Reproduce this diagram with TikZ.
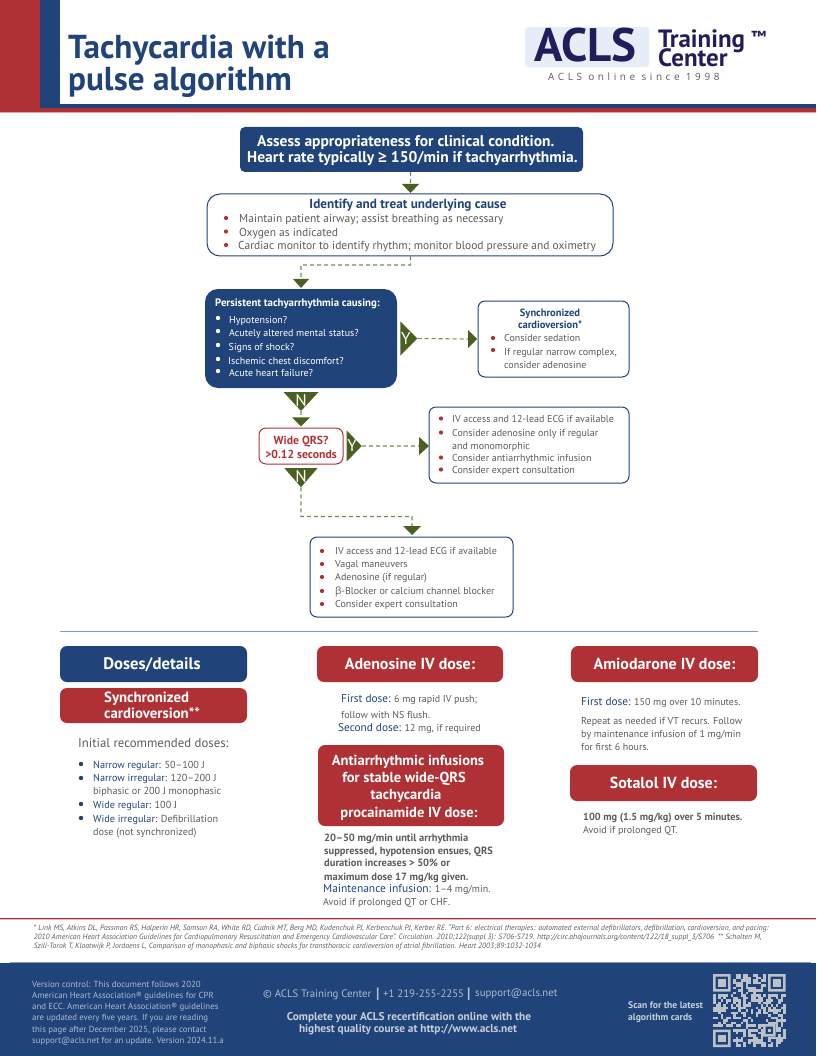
\documentclass[tikz,border=0pt]{standalone}
\usepackage{fontspec}
\setmainfont{PT Sans}
\newfontfamily\greekfont{Open Sans}
\newfontfamily\spacedfont[LetterSpace=36]{Open Sans}
\usetikzlibrary{positioning}
\definecolor{acblue}{HTML}{20447A}
\definecolor{acred}{HTML}{B03135}
\definecolor{acolive}{HTML}{4A6020}
\definecolor{acgray}{HTML}{5A5B5E}
\definecolor{acnavy}{HTML}{221C5A}
\definecolor{acpale}{HTML}{E7EDF7}
\definecolor{acrule}{HTML}{7F9AC4}
\definecolor{acfoot}{HTML}{AEBACD}
\definecolor{acfootb}{HTML}{C6CED9}
\definecolor{acqr}{HTML}{BCC2C8}
\newcommand{\fsz}[1]{\fontsize{#1}{#1}\selectfont}
\tikzset{
  txt/.style={anchor=west,inner sep=0,text=acgray,text height=7.5pt,text depth=0pt,font=\fsz{10}},
  ctxt/.style={txt,anchor=center},
  headtxt/.style={txt,text=white,text height=10.5pt},
  fillbox/.style={fill=#1,rounded corners=7pt,inner sep=0},
  linebox/.style={draw=#1,fill=white,line width=1pt,inner sep=0},
  flow/.style={draw=acolive!75!white,line width=1.1pt,dash pattern=on 4pt off 3pt},
  downtip/.style={inner sep=0,text=white,font=\fsz{17},path picture={\fill[acolive] (path picture bounding box.north west) -- (path picture bounding box.north east) -- (path picture bounding box.south) -- cycle;}},
  righttip/.style={inner sep=0,text=white,font=\fsz{17},path picture={\fill[acolive] (path picture bounding box.north west) -- (path picture bounding box.east) -- (path picture bounding box.south west) -- cycle;}}
}
\begin{document}
\begin{tikzpicture}[x=1pt,y=-1pt]
  \useasboundingbox (0,0) rectangle (816,1056);

  \fill[acred] (0,0) rectangle (40,112);
  \fill[acblue] (40,0) rectangle (60,108);
  \fill[acblue] (40,104) rectangle (816,108);
  \fill[acred] (40,108) rectangle (816,112);
  \fill[acred!45!white] (0,112) rectangle (816,113);
  \node[anchor=base west,inner sep=0,text=acblue,font=\fsz{33.2}\bfseries] (title1) at (68,59) {Tachycardia with a};
  \node[anchor=base west,inner sep=0,text=acblue,font=\fsz{33.2}\bfseries] (title2) at (68,91) {pulse algorithm};

  \fill[acpale,rounded corners=3pt] (525,27) rectangle (649,67);
  \node[anchor=base west,inner sep=0,text=acnavy,font=\fsz{47}\bfseries] (logo) at (534,62) {ACLS};
  \node[anchor=base west,inner sep=0,text=acnavy,font=\fsz{25}\bfseries,text height=17pt,text depth=0pt] (training) at (658,48) {Training};
  \node[anchor=base west,inner sep=0,text=acnavy,font=\fsz{25}\bfseries,text height=17pt,text depth=0pt] (center) at (658,67) {Center};
  \node[anchor=west,inner sep=0,text=acnavy,font=\fsz{16}\bfseries] (tm) at (751,37) {™};
  \node[anchor=west,inner sep=0,text=acgray,font=\fsz{10}\spacedfont] (since) at (548,77) {ACLS online since 1998};

  \node[fillbox=acblue,rounded corners=5pt,minimum width=343pt,minimum height=45pt] (assess) at (411.5,149.5) {};
  \node[headtxt,font=\fsz{15.5}\bfseries] (assess1) at (257,141) {Assess appropriateness for clinical condition.};
  \node[headtxt,font=\fsz{15.5}\bfseries] (assess2) at (247,157) {Heart rate typically {\greekfont ≥} 150/min if tachyarrhythmia.};
  \node[downtip,minimum width=17pt,minimum height=9pt] (tip1) at (410.5,188.5) {};

  \node[linebox=acblue,rounded corners=13pt,minimum width=406pt,minimum height=62pt] (identify) at (410,225) {};
  \node[ctxt,text=acblue,font=\fsz{13.2}\bfseries,text height=9pt] (identifyhead) at (408,204) {Identify and treat underlying cause};
  \foreach \tag/\xpos/\ypos/\line in {id1/239/219/{Maintain patient airway; assist breathing as necessary},id2/239/232.5/{Oxygen as indicated},id3/238/246/{Cardiac monitor to identify rhythm; monitor blood pressure and oximetry}} {
    \fill[acred] (226,\ypos-1) circle (2.1pt);
    \node[txt,font=\fsz{11.5},text height=8pt] (\tag) at (\xpos,\ypos) {\line};
  }

  \node[downtip,minimum width=16pt,minimum height=9pt] (tip2) at (301,283.5) {};
  \node[fillbox=acblue,rounded corners=13pt,minimum width=192pt,minimum height=99pt] (persist) at (301,338.5) {};
  \node[txt,text=white,font=\fsz{10.8}\bfseries] (persisthead) at (215,303) {Persistent tachyarrhythmia causing:};
  \foreach \tag/\xpos/\ypos/\line in {pe1/229/320/Hypotension?,pe2/229/333/{Acutely altered mental status?},pe3/228.5/347/{Signs of shock?},pe4/228/361/{Ischemic chest discomfort?},pe5/229/373/{Acute heart failure?}} {
    \fill[white] (218,\ypos-2) circle (2.2pt);
    \node[txt,text=white] (\tag) at (\xpos,\ypos) {\line};
  }

  \node[righttip,minimum width=17pt,minimum height=34pt,right=3pt of persist] (ytip1) {\kern-6pt Y};
  \node[righttip,minimum width=9pt,minimum height=18pt] (ytipb1) at (472.5,339) {};
  \node[linebox=acblue,rounded corners=7pt,minimum width=151pt,minimum height=76pt] (syncbox) at (553.5,339) {};
  \node[ctxt,text=acblue,font=\fsz{10.5}\bfseries] (syncbox1) at (550,313) {Synchronized};
  \node[ctxt,text=acblue,font=\fsz{10.5}\bfseries] (syncbox2) at (550,324.5) {cardioversion*};
  \fill[acred] (493,338) circle (2.1pt) (493,350) circle (2.1pt);
  \node[txt] (sy1) at (504,338) {Consider sedation};
  \node[txt] (sy2) at (504,352) {If regular narrow complex,};
  \node[txt] (sy3) at (504,364.5) {consider adenosine};

  \node[downtip,minimum width=35pt,minimum height=19pt] (ntip1) at (301,401.5) {\raisebox{2pt}{N}};
  \node[downtip,minimum width=18pt,minimum height=9pt,below=6pt of ntip1] (tip3) {};
  \node[linebox=acred,rounded corners=7pt,minimum width=84pt,minimum height=36pt] (qrs) at (301,446) {};
  \node[ctxt,text=acred,font=\fsz{11.7}\bfseries,text height=8.5pt] (qrs1) at (301,440) {Wide QRS?};
  \node[ctxt,text=acred,font=\fsz{11.7}\bfseries,text height=8.5pt] (qrs2) at (301,454) {>0.12 seconds};
  \node[righttip,minimum width=15pt,minimum height=31pt,right=3pt of qrs] (ytip2) {\kern-4pt Y};
  \node[righttip,minimum width=10pt,minimum height=18pt] (ytipb2) at (424,446) {};
  \node[linebox=acblue,rounded corners=7pt,minimum width=200pt,minimum height=76pt] (widebox) at (529,445) {};
  \foreach \tag/\ypos/\line in {wi1/419/{IV access and 12-lead ECG if available},wi2/433/{Consider adenosine only if regular},wi4/458/{Consider antiarrhythmic infusion},wi5/470/{Consider expert consultation}} {
    \fill[acred] (441,\ypos-0.5) circle (2.1pt);
    \node[txt] (\tag) at (452,\ypos) {\line};
  }
  \node[txt] (wi3) at (452,445.5) {and monomorphic};

  \node[downtip,minimum width=33pt,minimum height=19pt,below=3.5pt of qrs] (ntip2) {\raisebox{2pt}{N}};
  \node[downtip,minimum width=18pt,minimum height=9pt] (tip4) at (412,530.5) {};
  \node[linebox=acblue,rounded corners=7pt,minimum width=203pt,minimum height=80pt] (narrowbox) at (411.5,577) {};
  \foreach \tag/\ypos/\line in {na1/551/{IV access and 12-lead ECG if available},na2/564/{Vagal maneuvers},na3/577/{Adenosine (if regular)},na4/591/{{\greekfont β}-Blocker or calcium channel blocker},na5/604/{Consider expert consultation}} {
    \fill[acred] (322,\ypos) circle (2.1pt);
    \node[txt] (\tag) at (335,\ypos) {\line};
  }

  \path[flow]
    (tip1.north |- assess.south) -- (tip1.north)
    (identify.south -| tip1.north) -- (410.5,265) -| (tip2.north)
    (ytip1.east) -- (ytipb1.west)
    (ntip1.south) -- (tip3.north)
    (ytip2.east) -- (ytipb2.west)
    (ntip2.south) |- (412,516.5) -- (tip4.north)
    ;

  \draw[acrule,line width=1pt] (60,631) -- (758,631);

  \node[fillbox=acblue,minimum width=187pt,minimum height=36pt] (doses) at (153.5,664) {};
  \node[headtxt,anchor=center,font=\fsz{16.7}\bfseries] (doseshead) at (152,664) {Doses/details};
  \node[fillbox=acred,minimum width=187pt,minimum height=35pt] (syncdose) at (153.5,705.5) {};
  \node[headtxt,font=\fsz{14.8}\bfseries] (syncdose1) at (104,697) {Synchronized};
  \node[headtxt,font=\fsz{14.8}\bfseries] (syncdose2) at (104,713) {cardioversion**};
  \node[txt,font=\fsz{12.8},text height=9.5pt] (initial) at (78,743) {Initial recommended doses:};
  \fill[acblue] (81,764) circle (2.2pt) (81,778) circle (2.2pt) (81,804) circle (2.2pt) (81,818) circle (2.2pt);
  \node[txt,font=\fsz{10.2}] (do1) at (93,765) {\textcolor{acblue}{Narrow regular:} 50–100 J};
  \node[txt,font=\fsz{10.2}] (do2) at (93,778) {\textcolor{acblue}{Narrow irregular:} 120–200 J};
  \node[txt,font=\fsz{10.2}] (do3) at (93,791) {biphasic or 200 J monophasic};
  \node[txt,font=\fsz{10.2}] (do4) at (93,805) {\textcolor{acblue}{Wide regular:} 100 J};
  \node[txt,font=\fsz{10.2}] (do5) at (93,819) {\textcolor{acblue}{Wide irregular:} Defibrillation};
  \node[txt,font=\fsz{10.2}] (do6) at (93,832) {dose (not synchronized)};

  \node[fillbox=acred,minimum width=186pt,minimum height=36pt] (adenosine) at (410,664) {};
  \node[headtxt,anchor=center,font=\fsz{16}\bfseries] (adenosinehead) at (410,664) {Adenosine IV dose:};
  \node[txt] (ad1) at (341,699) {\textcolor{acblue}{\fsz{11.3}First dose:} 6 mg rapid IV push;};
  \node[txt] (ad2) at (341,715) {follow with NS flush.};
  \node[txt] (ad3) at (338,728) {\textcolor{acblue}{\fsz{11.3}Second dose:} 12 mg, if required};

  \node[fillbox=acred,minimum width=186pt,minimum height=81pt] (antiarr) at (411,785.5) {};
  \foreach \tag/\xpos/\ypos/\line in {an1/408/760/{Antiarrhythmic infusions},an2/404/777/{for stable wide-QRS},an3/406/794/tachycardia,an4/409/812/{procainamide IV dose:}} {
    \node[headtxt,anchor=center,font=\fsz{14.5}\bfseries] (\tag) at (\xpos,\ypos) {\line};
  }
  \node[txt,font=\fsz{10.5}\bfseries] (pr1) at (324,838) {20–50 mg/min until arrhythmia};
  \node[txt,font=\fsz{10.5}\bfseries] (pr2) at (324,851) {suppressed, hypotension ensues, QRS};
  \node[txt,font=\fsz{10.5}\bfseries] (pr3) at (324,863) {duration increases > 50\% or};
  \node[txt,font=\fsz{10.5}\bfseries] (pr4) at (324,877) {maximum dose 17 mg/kg given.};
  \node[txt] (pr5) at (323,889) {\textcolor{acblue}{\fsz{11.5}Maintenance infusion:} 1–4 mg/min.};
  \node[txt] (pr6) at (323,902) {Avoid if prolonged QT or CHF.};

  \node[fillbox=acred,minimum width=187pt,minimum height=36pt] (amio) at (664.5,664) {};
  \node[headtxt,anchor=center,font=\fsz{16}\bfseries] (amiohead) at (664.5,664) {Amiodarone IV dose:};
  \node[txt] (am1) at (581,702) {\textcolor{acblue}{\fsz{11.3}First dose:} 150 mg over 10 minutes.};
  \node[txt] (am2) at (581,721) {Repeat as needed if VT recurs. Follow};
  \node[txt] (am3) at (581,734) {by maintenance infusion of 1 mg/min};
  \node[txt] (am4) at (581,747) {for first 6 hours.};

  \node[fillbox=acred,minimum width=187pt,minimum height=36pt] (sotalol) at (663.5,783) {};
  \node[headtxt,anchor=center,font=\fsz{16}\bfseries] (sotalolhead) at (663.5,783) {Sotalol IV dose:};
  \node[txt,font=\fsz{10.3}\bfseries] (so1) at (583,817) {100 mg (1.5 mg/kg) over 5 minutes.};
  \node[txt] (so2) at (583,830) {Avoid if prolonged QT.};

  \fill[acred] (0,917.8) rectangle (816,919);
  \fill[acred!35!white] (0,919) rectangle (816,920);
  \node[txt,font=\fsz{7.67}\itshape,text height=6pt] (ref1) at (33.5,927) {* Link MS, Atkins DL, Passman RS, Halperin HR, Samson RA, White RD, Cudnik MT, Berg MD, Kudenchuk PJ, Kerbenchuk PJ, Kerber RE. “Part 6: electrical therapies: automated external defibrillators, defibrillation, cardioversion, and pacing:};
  \node[txt,font=\fsz{7.67}\itshape,text height=6pt] (ref2) at (33.5,936) {2010 American Heart Association Guidelines for Cardiopulmonary Resuscitation and Emergency Cardiovascular Care”. Circulation. 2010;122(suppl 3): S706-S719. http://circ.ahajournals.org/content/122/18\_suppl\_3/S706 \ ** Scholten M,};
  \node[txt,font=\fsz{7.67}\itshape,text height=6pt] (ref3) at (33.5,945) {Szili-Torok T, Kloatwijk P, Jordaens L, Comparison of monophasic and biphasic shocks for transthoracic cardioversion of atrial fibrillation. Heart 2003;89:1032-1034};

  \fill[acblue] (0,963) rectangle (816,1056);
  \fill[acrule] (10,962) rectangle (811,963);
  \foreach \tag/\ypos/\line in {vc1/984/{Version control: This document follows 2020},vc2/995/{American Heart Association® guidelines for CPR},vc3/1006/{and ECC. American Heart Association® guidelines},vc4/1017/{are updated every five years. If you are reading},vc5/1029/{this page after December 2025, please contact},vc6/1040/{support@acls.net for an update. Version 2024.11.a}} {
    \node[txt,text=acfoot,font=\fsz{8.8},text height=6.5pt] (\tag) at (32,\ypos) {\line};
  }
  \node[txt,text=acfoot,font=\fsz{10.8}] (copy) at (263,994) {© ACLS Training Center};
  \node[txt,text=acfoot,font=\fsz{15}\bfseries,text height=9pt] (pipe1) at (376,994) {|};
  \node[txt,text=acfoot,font=\fsz{10.8}] (phone) at (383,994) {+1 219-255-2255};
  \node[txt,text=acfoot,font=\fsz{15}\bfseries,text height=9pt] (pipe2) at (467,994) {|};
  \node[txt,text=acfoot,font=\fsz{10.8}] (mail) at (475,993) {support@acls.net};
  \node[ctxt,text=acfootb,font=\fsz{11.3}\bfseries] (promo1) at (409,1017) {Complete your ACLS recertification online with the};
  \node[ctxt,text=acfootb,font=\fsz{11.3}\bfseries] (promo2) at (408,1029) {highest quality course at http://www.acls.net};
  \node[txt,text=acfootb,font=\fsz{9.6}\bfseries] (scan1) at (628,1005) {Scan for the latest};
  \node[txt,text=acfootb,font=\fsz{9.6}\bfseries] (scan2) at (628,1017) {algorithm cards};

  \pgfmathsetseed{4211}
  \foreach \qx in {0,...,28} {
    \foreach \qy in {0,...,28} {
      \pgfmathtruncatemacro\qskip{((\qx<8)&&(\qy<8))||((\qx>20)&&(\qy<8))||((\qx<8)&&(\qy>20))||((\qx>19)&&(\qx<25)&&(\qy>19)&&(\qy<25))}
      \pgfmathtruncatemacro\qon{rnd<0.52}
      \ifnum\qskip=0 \ifnum\qon=1
        \fill[acqr] (713+2.5*\qx,974+2.5*\qy) rectangle ++(2.5,2.5);
      \fi\fi
    }
  }
  \foreach \fx/\fy in {713/974,768/974,713/1029.5} {
    \fill[acqr,even odd rule] (\fx,\fy) rectangle ++(17.5,17.5) (\fx+2.5,\fy+2.5) rectangle ++(12.5,12.5);
    \fill[acqr] (\fx+5,\fy+5) rectangle ++(7.5,7.5);
  }
  \fill[acqr,even odd rule] (763,1024) rectangle ++(12.5,12.5) (765.5,1026.5) rectangle ++(7.5,7.5);
  \fill[acqr] (768,1029) rectangle ++(2.5,2.5);
\end{tikzpicture}
\end{document}
